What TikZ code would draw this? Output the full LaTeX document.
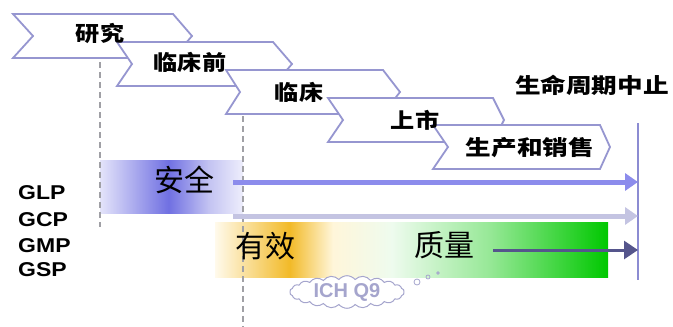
\documentclass[tikz,border=0pt]{standalone}
\usepackage{fontspec}
\setmainfont{Liberation Sans}
\newfontfamily\cjk{Noto Sans CJK SC}
\usetikzlibrary{arrows.meta,shapes.symbols}
\definecolor{chevc}{RGB}{150,150,208}
\definecolor{sA}{RGB}{228,228,250}
\definecolor{sB}{RGB}{112,112,226}
\definecolor{sC}{RGB}{195,195,242}
\definecolor{sD}{RGB}{238,238,252}
\definecolor{eA}{RGB}{255,250,236}
\definecolor{eB}{RGB}{242,186,40}
\definecolor{eC}{RGB}{255,246,218}
\definecolor{eD}{RGB}{238,251,238}
\definecolor{eE}{RGB}{150,232,150}
\definecolor{eF}{RGB}{0,200,0}
\definecolor{safearrow}{RGB}{140,140,236}
\definecolor{gcparrow}{RGB}{196,196,226}
\definecolor{qualarrow}{RGB}{85,85,140}
\definecolor{lifeline}{RGB}{140,140,210}
\definecolor{dashc}{RGB}{160,160,165}
\definecolor{cloudc}{RGB}{165,165,205}
\pgfdeclarehorizontalshading{safeshade}{100bp}{color(0bp)=(sA); color(25bp)=(sA); color(49bp)=(sB); color(63bp)=(sC); color(75bp)=(sD); color(100bp)=(sD)}
\pgfdeclarehorizontalshading{effshade}{100bp}{color(0bp)=(eA); color(25bp)=(eA); color(34.5bp)=(eB); color(40bp)=(eC); color(47.5bp)=(eD); color(60bp)=(eE); color(75bp)=(eF); color(100bp)=(eF)}
\newcommand{\wide}[1]{\scalebox{1.15}[1]{#1}}
\newcommand{\wider}[1]{\scalebox{1.22}[1]{#1}}
\tikzset{
  chev/.style={draw=chevc, line width=1.8pt, fill=white, line join=miter},
  chevtext/.style={font=\cjk\bfseries\fontsize{21}{21}\selectfont, inner sep=0pt},
  bigtext/.style={font=\cjk\fontsize{30}{30}\selectfont, inner sep=0pt},
  gx/.style={font=\bfseries\fontsize{20}{20}\selectfont, anchor=west, inner sep=0pt},
  dashline/.style={draw=dashc, line width=1.4pt, dash pattern=on 6pt off 4pt},
  bigarrow/.style={line width=5pt, -{Triangle[length=13pt,width=17pt]}},
}
\begin{document}
\begin{tikzpicture}[x=1pt,y=-1pt]
\useasboundingbox (0,0) rectangle (673,327);
% gradient bands
\shade[shading=safeshade] (100,160) rectangle (243,213);
\shade[shading=effshade] (215,222) rectangle (608,277);
% dashed guide lines
\draw[dashline] (100,62) -- (100,227);
\draw[dashline] (243,116) -- (243,327);
% chevrons
\draw[chev] (13,14) -- (173,14) -- (192,36) -- (173,58) -- (13,58) -- (33,36) -- cycle;
\draw[chev] (117,42) -- (273,42) -- (292,64) -- (273,86) -- (117,86) -- (132,64) -- cycle;
\draw[chev] (226,70) -- (383,70) -- (400,92) -- (383,114) -- (226,114) -- (240,92) -- cycle;
\draw[chev] (328,98) -- (493,98) -- (504,120) -- (493,142) -- (328,142) -- (343,120) -- cycle;
\draw[chev] (433,125) -- (600,125) -- (610,147) -- (600,169) -- (433,169) -- (448,147) -- cycle;
\node[chevtext] (s1) at (100,33) {\wide{研究}};
\node[chevtext] (s2) at (190,62) {\wide{临床前}};
\node[chevtext] (s3) at (299,92) {\wide{临床}};
\node[chevtext] (s4) at (415,120) {\wide{上市}};
\node[chevtext] (s5) at (530,148) {\wider{生产和销售}};
% end of life
\node[chevtext, anchor=east] (eol) at (669,85) {\wider{生命周期中止}};
\coordinate (lt) at (638,123);
\coordinate (lb) at (638,280);
\draw[lifeline, line width=2.5pt] (lt) -- (lb);
% left labels
\node[gx] (glp) at (18,193) {\wide{GLP}};
\node[gx] (gcp) at (18,220) {\wide{GCP}};
\node[gx] (gmp) at (18,246) {\wide{GMP}};
\node[gx] (gsp) at (18,270) {\wide{GSP}};
% safety / efficacy / quality
\node[bigtext] (safe) at (184,180) {安全};
\node[bigtext] (eff) at (265,246) {有效};
\node[bigtext] (qual) at (444,245) {质量};
\coordinate (a1s) at (233,182);
\coordinate (a1e) at (638,182);
\coordinate (a2s) at (233,216);
\coordinate (a2e) at (638,216);
\coordinate (a3s) at (493,250);
\coordinate (a3e) at (638,250);
\draw[bigarrow, safearrow] (a1s) -- (a1e);
\draw[bigarrow, gcparrow] (a2s) -- (a2e);
\draw[qualarrow, line width=3pt, -{Triangle[length=14pt,width=18pt]}] (a3s) -- (a3e);
% cloud
\node[cloud, cloud puffs=22, cloud puff arc=100, aspect=4.5, minimum width=114pt, minimum height=27pt,
      draw=cloudc, line width=1pt, fill=white,
      inner sep=0pt, text=cloudc, font=\bfseries\fontsize{20}{20}\selectfont] (ich) at (347,292) {ICH Q9};
\draw[cloudc, line width=0.8pt] (417,282) circle (3pt);
\draw[cloudc, line width=0.8pt] (428,277) circle (2pt);
\draw[cloudc, line width=0.8pt] (438,273) circle (1.3pt);
\end{tikzpicture}
\end{document}
